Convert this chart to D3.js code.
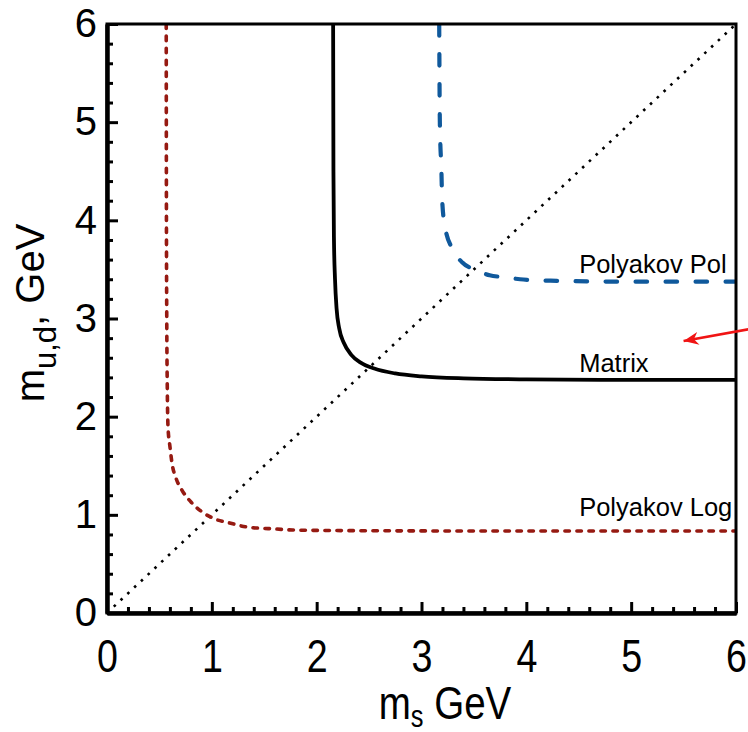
<!DOCTYPE html>
<html>
<head>
<meta charset="utf-8">
<script src="https://cdn.jsdelivr.net/npm/d3@7"></script>
<style>
  body { margin: 0; background: #fff; }
  svg { display: block; }
</style>
</head>
<body>
<div id="chart"></div>
<script>
// Mass boundaries (m_s along x, m_u,d along y, both GeV)
const matrixMs  = [2.157, 2.16, 2.165, 2.175, 2.19, 2.215, 2.26, 2.33, 2.42, 2.55, 2.75, 3.0, 3.4, 4.0, 5.0, 6.0];
const matrixMud = [6.0, 4.5, 3.8, 3.4, 3.1, 2.9, 2.75, 2.63, 2.55, 2.49, 2.44, 2.41, 2.39, 2.38, 2.375, 2.375];

const polMs  = [3.169, 3.175, 3.19, 3.197, 3.225, 3.30, 3.39, 3.53, 3.65, 3.80, 3.94, 4.23, 5.0, 6.0];
const polMud = [6.0, 5.0, 4.5, 4.21, 3.93, 3.70, 3.57, 3.49, 3.44, 3.42, 3.40, 3.385, 3.375, 3.375];

const logMs  = [0.565, 0.567, 0.57, 0.575, 0.582, 0.601, 0.62, 0.658, 0.716, 0.811, 0.906, 1.03, 1.17, 1.336, 1.62, 1.77, 2.5, 4.0, 6.0];
const logMud = [6.0, 4.0, 3.0, 2.3, 1.894, 1.69, 1.527, 1.375, 1.25, 1.12, 1.03, 0.957, 0.917, 0.876, 0.855, 0.845, 0.838, 0.835, 0.835];

const diagonal = [0, 6];

const majorTicks = [0, 1, 2, 3, 4, 5, 6];
const minorTicks = d3.range(0, 30).map(i => i * 0.2).filter(v => Math.abs(v - Math.round(v)) > 1e-6);

// curve labels: name, x (start), y (baseline) in data units
const labelNames = ["Polyakov Pol", "Matrix", "Polyakov Log"];
const labelX = [4.504, 4.504, 4.504];
const labelY = [3.465, 2.454, 0.988];

// red annotation arrow, data units (starts outside the frame)
const arrowFrom = [6.12, 2.89];
const arrowTo = [5.50, 2.77];

const width = 748, height = 732;
const x = d3.scaleLinear().domain([0, 6]).range([107, 736]);
const y = d3.scaleLinear().domain([0, 6]).range([613, 24]);

const svg = d3.select('#chart').append('svg')
    .attr('width', width)
    .attr('height', height);

svg.append('defs').append('marker')
    .attr('id', 'arrowhead')
    .attr('viewBox', '-16 -8 18 16')
    .attr('refX', 0).attr('refY', 0)
    .attr('markerWidth', 18).attr('markerHeight', 16)
    .attr('markerUnits', 'userSpaceOnUse')
    .attr('orient', 'auto')
    .append('path')
    .attr('d', 'M0,0 L-15,-6.5 L-10.5,0 L-15,6.5 Z')
    .attr('fill', '#f01414');

const clip = svg.append('defs').append('clipPath').attr('id', 'plot-clip');
clip.append('rect')
    .attr('x', x(0)).attr('y', y(6))
    .attr('width', x(6) - x(0)).attr('height', y(0) - y(6));

const plot = svg.append('g').attr('clip-path', 'url(#plot-clip)');

const line = d3.line()
    .x(d => x(d[0]))
    .y(d => y(d[1]))
    .curve(d3.curveMonotoneX);

// diagonal m_s = m_u,d
plot.append('path')
    .datum(d3.zip(diagonal, diagonal))
    .attr('d', d3.line().x(d => x(d[0])).y(d => y(d[1])))
    .attr('fill', 'none')
    .attr('stroke', '#000')
    .attr('stroke-width', 2.6)
    .attr('stroke-dasharray', '2.6,6.7');

plot.append('path')
    .datum(d3.zip(logMs, logMud))
    .attr('d', line)
    .attr('fill', 'none')
    .attr('stroke', '#961a12')
    .attr('stroke-width', 3.6)
    .attr('stroke-linecap', 'round')
    .attr('stroke-dasharray', '4.5,7.5');

plot.append('path')
    .datum(d3.zip(polMs, polMud))
    .attr('d', line)
    .attr('fill', 'none')
    .attr('stroke', '#10599c')
    .attr('stroke-width', 4.2)
    .attr('stroke-linecap', 'round')
    .attr('stroke-dasharray', '11.5,18.5');

plot.append('path')
    .datum(d3.zip(matrixMs, matrixMud))
    .attr('d', line)
    .attr('fill', 'none')
    .attr('stroke', '#000')
    .attr('stroke-width', 3.8);

// frame
svg.append('rect')
    .attr('x', x(0)).attr('y', y(6))
    .attr('width', x(6) - x(0)).attr('height', y(0) - y(6))
    .attr('fill', 'none')
    .attr('stroke', '#000')
    .attr('stroke-width', 3);

// axes: ticks point inward, minor every 0.2
function styleAxis(g) {
    g.select('.domain').attr('stroke-width', 4);
    g.selectAll('.tick line').attr('stroke-width', 3);
}

svg.append('g')
    .attr('transform', `translate(0,${y(0)})`)
    .call(d3.axisBottom(x).tickValues(minorTicks).tickSize(-6).tickSizeOuter(0).tickFormat(''))
    .call(styleAxis);

// x tick labels are condensed in the original
svg.append('g')
    .attr('transform', `translate(0,${y(0)})`)
    .call(d3.axisBottom(x).tickValues(majorTicks).tickSize(-11).tickSizeOuter(0).tickPadding(26).tickFormat(d3.format('d')))
    .call(styleAxis)
    .call(g => g.selectAll('.tick text')
        .attr('fill', '#000')
        .attr('transform', 'scale(0.8,1)')
        .style('font-family', '"Liberation Sans", Arial, sans-serif')
        .style('font-size', '47px'));

svg.append('g')
    .attr('transform', `translate(${x(0)},0)`)
    .call(d3.axisLeft(y).tickValues(minorTicks).tickSize(-6).tickSizeOuter(0).tickFormat(''))
    .call(styleAxis);

svg.append('g')
    .attr('transform', `translate(${x(0)},0)`)
    .call(d3.axisLeft(y).tickValues(majorTicks).tickSize(-11).tickSizeOuter(0).tickPadding(10).tickFormat(d3.format('d')))
    .call(styleAxis)
    .call(g => g.selectAll('.tick text')
        .attr('fill', '#000')
        .style('font-family', '"Liberation Sans", Arial, sans-serif')
        .style('font-size', '40px'));

// axis titles
const xTitle = svg.append('text')
    .attr('transform', 'translate(445,719) scale(0.82,1)')
    .attr('text-anchor', 'middle')
    .style('font-family', '"Liberation Sans", Arial, sans-serif')
    .style('font-size', '47px');
xTitle.append('tspan').text('m');
xTitle.append('tspan').attr('dy', 8).style('font-size', '31px').text('s');
xTitle.append('tspan').attr('dy', -8).text(' GeV');

const yTitle = svg.append('text')
    .attr('transform', 'translate(44,313) rotate(-90)')
    .attr('text-anchor', 'middle')
    .style('font-family', '"Liberation Sans", Arial, sans-serif')
    .style('font-size', '40px');
yTitle.append('tspan').text('m');
yTitle.append('tspan').attr('dy', 12).style('font-size', '31px').text('u,d');
yTitle.append('tspan').attr('dy', -12).text(', GeV');

// curve labels
svg.selectAll('.curve-label')
    .data(labelNames)
    .enter()
    .append('text')
    .attr('class', 'curve-label')
    .attr('x', (d, i) => x(labelX[i]))
    .attr('y', (d, i) => y(labelY[i]))
    .style('font-family', '"Liberation Sans", Arial, sans-serif')
    .style('font-size', '25.5px')
    .attr('fill', '#000')
    .text(d => d);

// annotation arrow
svg.append('line')
    .attr('x1', x(arrowFrom[0])).attr('y1', y(arrowFrom[1]))
    .attr('x2', x(arrowTo[0])).attr('y2', y(arrowTo[1]))
    .attr('stroke', '#f01414')
    .attr('stroke-width', 2.6)
    .attr('marker-end', 'url(#arrowhead)');
</script>
</body>
</html>
